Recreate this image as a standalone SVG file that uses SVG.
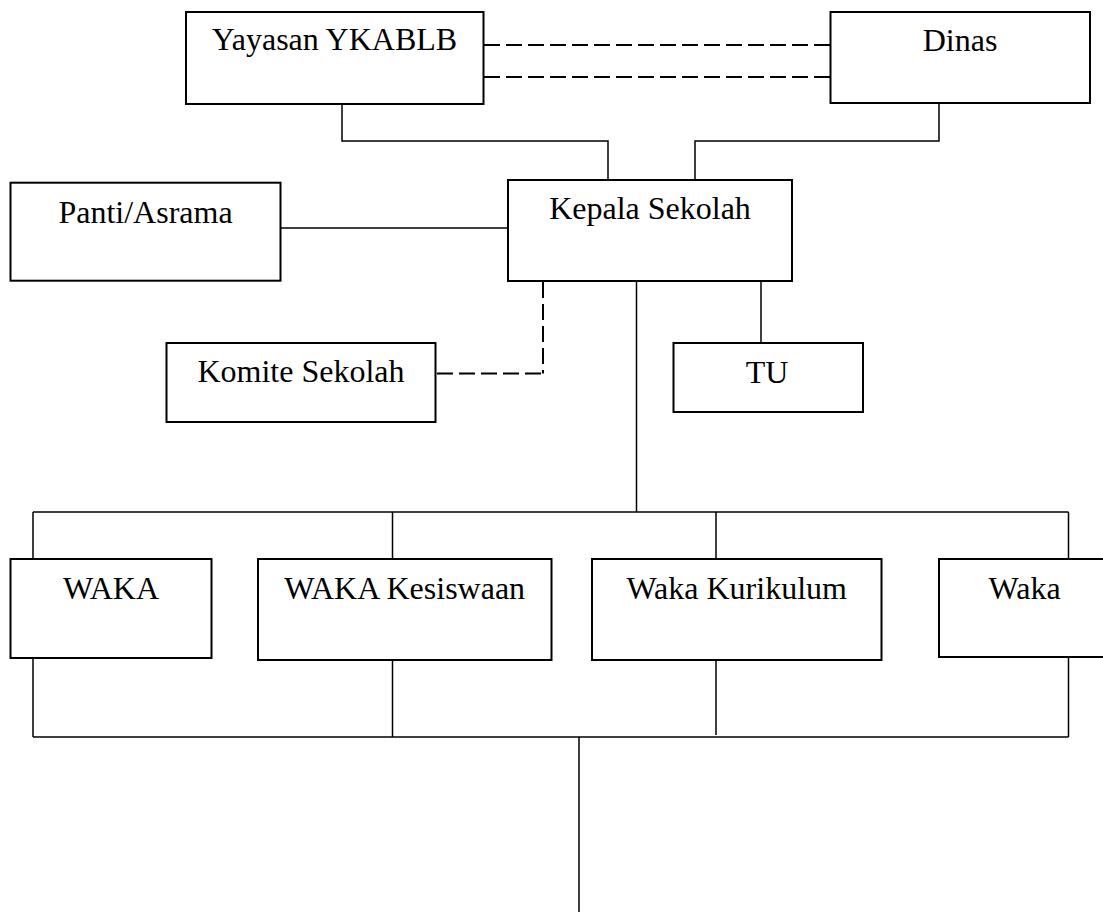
<svg xmlns="http://www.w3.org/2000/svg" width="1103" height="917" viewBox="0 0 1103 917">
<style>
.box{fill:#fff;stroke:#000;stroke-width:2}
.ln{fill:none;stroke:#000;stroke-width:1.5}
.dash{fill:none;stroke:#000;stroke-width:2;stroke-dasharray:16 6}
.t{font-family:"Liberation Serif","Times New Roman",serif;font-size:32px;fill:#000;text-anchor:middle}
</style>
<rect width="1103" height="917" fill="#fff"/>
<g id="connectors">
<path class="dash" d="M484 45 H830.5"/>
<path class="dash" d="M484 77 H830.5"/>
<path class="ln" d="M342 104 V141 H608 V180"/>
<path class="ln" d="M939 103 V141 H695 V180"/>
<path class="ln" d="M280.5 228 H508"/>
<path class="dash" d="M543 282 V373.5"/>
<path class="dash" d="M437 373.5 H543"/>
<path class="ln" d="M761 281 V343"/>
<path class="ln" d="M636.5 281 V512"/>
<path class="ln" d="M33 512 H1068.5"/>
<path class="ln" d="M33 512 V559 M392.5 512 V559 M716 512 V559 M1068.5 512 V559"/>
<path class="ln" d="M33 658 V737 M392.5 660 V737 M716 656 V735 M1068.5 657 V737"/>
<path class="ln" d="M33 737 H1068.5"/>
<path class="ln" d="M579 737 V912"/>
</g>
<g id="yayasan"><rect class="box" x="186" y="12" width="297.5" height="92"/><text class="t" x="334.5" y="50">Yayasan YKABLB</text></g>
<g id="dinas"><rect class="box" x="830.5" y="12" width="259.5" height="91"/><text class="t" x="960" y="51">Dinas</text></g>
<g id="kepala"><rect class="box" x="508" y="180" width="284" height="101"/><text class="t" x="650" y="219">Kepala Sekolah</text></g>
<g id="panti"><rect class="box" x="10.5" y="182.7" width="270" height="98"/><text class="t" x="145.5" y="222.7">Panti/Asrama</text></g>
<g id="komite"><rect class="box" x="166.5" y="343" width="269" height="79"/><text class="t" x="301" y="381.7">Komite Sekolah</text></g>
<g id="tu"><rect class="box" x="673.5" y="343" width="189.5" height="69"/><text class="t" x="767" y="382.7">TU</text></g>
<g id="waka1"><rect class="box" x="10.5" y="559" width="201" height="99"/><text class="t" x="111" y="598.5">WAKA</text></g>
<g id="waka-kesiswaan"><rect class="box" x="258" y="559" width="293.5" height="101"/><text class="t" x="404.7" y="598.5">WAKA Kesiswaan</text></g>
<g id="waka-kurikulum"><rect class="box" x="592" y="559" width="289.5" height="101"/><text class="t" x="736.7" y="598.5">Waka Kurikulum</text></g>
<g id="waka4"><rect class="box" x="939" y="559" width="175" height="98"/><text class="t" x="1024.6" y="599">Waka</text></g>
</svg>
